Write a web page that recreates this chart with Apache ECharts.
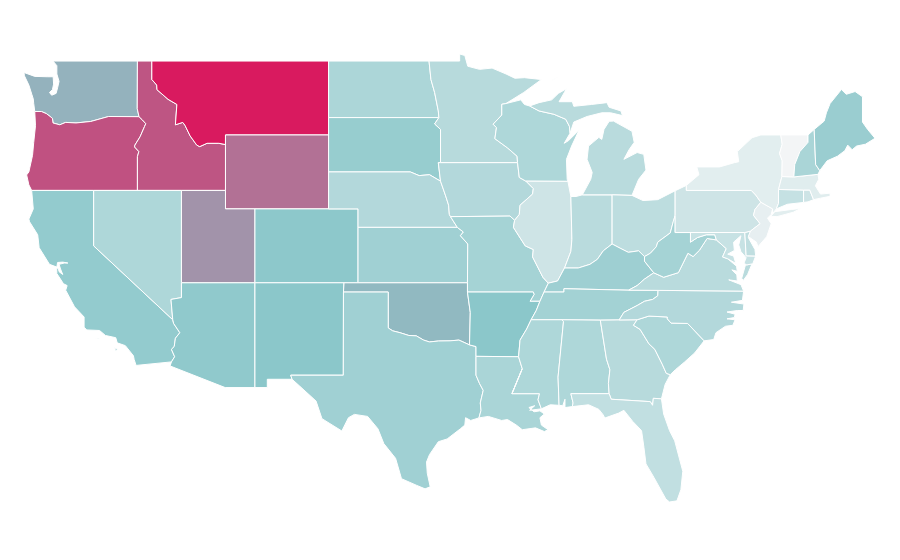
<!DOCTYPE html>
<html lang="en">
<head>
<meta charset="UTF-8">
<title>US states</title>
<script src="https://cdn.jsdelivr.net/npm/echarts@6/dist/echarts.min.js"></script>
<style>html,body{margin:0;background:#fff}</style>
</head>
<body>
<div id="chart1" style="width:900px;height:560px;"></div>
<script type="text/javascript">
// values (0 = palest, 50 = teal, 100 = crimson)
var stateNames = ['WA','OR','CA','ID','NV','MT','WY','UT','AZ','CO','NM','ND','SD','NE','KS','OK','TX','MN','IA','MO','AR','LA','WI','IL','IN','MI','OH','KY','TN','MS','AL','GA','FL','SC','NC','VA','WV','MD','DE','PA','NJ','NY','CT','RI','MA','VT','NH','ME'];
var stateValues = [56,84,46,83,33,100,75,65,47.5,49,50,34,44,31,40,54,40,29,31,37.5,50,35,33,18,28,28,26,41,38.5,33,33,29,24,33,31,28,37.5,21,24.5,18,6,8,22,18,9,0,35,43];
var paletteColors = ['#f3f5f6','#8bc7ca','#d91a5f'];

// shared borders, lon/lat
var columbia = [[-116.92,45.99],[-118.98,46],[-119.3,45.93],[-120.2,45.73],[-121.2,45.65],[-121.9,45.68],[-122.3,45.55],[-122.76,45.65],[-122.8,45.9],[-123.2,46.15],[-123.55,46.27],[-124,46.27]];
var snake = [[-117.03,42],[-117.03,43.83],[-116.93,44.1],[-117.22,44.35],[-117.2,44.45],[-116.85,44.9],[-116.55,45.45],[-116.46,45.61],[-116.7,45.82],[-116.92,45.99]];
var idMt = [[-116.05,49],[-116.05,48],[-115.72,47.7],[-115.7,47.45],[-114.95,46.93],[-114.35,46.65],[-114.45,45.55],[-113.95,45.68],[-113.8,45.52],[-113.45,44.95],[-113,44.45],[-112.8,44.37],[-112.3,44.55],[-111.5,44.55],[-111.05,44.48]];
var coloradoR = [[-114.63,35],[-114.57,34.8],[-114.15,34.3],[-114.45,34],[-114.53,33.55],[-114.72,33.4],[-114.5,33],[-114.72,32.72]];
var redRiver = [[-100,34.56],[-99.7,34.4],[-99.2,34.3],[-98.6,34.15],[-98.1,34.13],[-97.6,33.9],[-97.2,33.8],[-96.6,33.85],[-95.8,33.86],[-95.2,33.9],[-94.48,33.64]];
var sabine = [[-94.04,33.02],[-94.04,32],[-93.8,31.55],[-93.55,31.18],[-93.75,30.5],[-93.7,30.1],[-93.84,29.69]];
var moKs = [[-95.31,40],[-94.9,39.75],[-95.1,39.55],[-94.6,39.1],[-94.62,37]];
var neIa = [[-96.45,42.5],[-96.1,41.7],[-95.9,41.2],[-95.85,40.7],[-95.77,40.58],[-95.31,40]];
var neSd = [[-104.05,43],[-98.5,43],[-97.9,42.8],[-97.2,42.85],[-96.45,42.5]];
var ndMn = [[-97.23,49],[-97.1,48],[-96.85,47.3],[-96.6,46.3],[-96.56,45.94]];
var sdMn = [[-96.56,45.94],[-96.85,45.6],[-96.45,45.3],[-96.45,43.5]];
var mnWi = [[-92.01,46.7],[-92.29,46.66],[-92.29,46.08],[-92.88,45.58],[-92.65,45.4],[-92.76,44.8],[-91.9,44.3],[-91.25,43.85],[-91.22,43.5]];
var iaIl = [[-90.65,42.5],[-90.15,42.1],[-90.2,41.8],[-91.05,41.2],[-91.1,40.7],[-91.42,40.38]];
var ilMo = [[-91.42,40.38],[-91.5,40],[-90.7,39],[-90.15,38.8],[-90.2,38.4],[-89.5,37.3],[-89.13,36.98]];
var ohioLow = [[-84.8,39.1],[-85.4,38.73],[-85.8,38.27],[-86.3,38],[-87.1,37.8],[-88.03,37.8]];
var ohioIlKy = [[-88.03,37.8],[-88.5,37.1],[-89.13,36.98]];
var ohioOhKy = [[-82.6,38.42],[-83,38.73],[-83.7,38.65],[-84.2,38.85],[-84.8,39.1]];
var ohioOhWv = [[-80.52,40.64],[-80.65,40.3],[-80.85,39.7],[-81.7,39.2],[-81.8,38.95],[-82.2,38.6],[-82.6,38.42]];
var moKyTn = [[-89.13,36.98],[-89.42,36.5]];
var moAr = [[-90.15,36.5],[-90.1,36.37],[-90.37,36],[-89.7,36]];
var boot = [[-89.42,36.5],[-89.7,36]];
var tnAr = [[-89.7,36],[-89.95,35.5],[-90.3,35]];
var msAr = [[-90.3,35],[-90.6,34.5],[-91.05,33.9],[-91.15,33]];
var laMs = [[-91.15,33],[-90.9,32.35],[-91.6,31],[-89.73,31],[-89.83,30.67],[-89.6,30.18]];
var msAl = [[-88.2,35],[-88.1,34.9],[-88.47,31.9],[-88.4,30.37]];
var alGa = [[-85.6,34.98],[-85.18,32.87],[-84.95,32.3],[-85.05,31.55],[-85,31]];
var gaFl = [[-85,31],[-84.86,30.7],[-82.21,30.57],[-82.05,30.37],[-82,30.75],[-81.45,30.72]];
var gaSc = [[-83.1,35],[-83.35,34.7],[-82.9,34.48],[-82.3,33.7],[-81.9,33.4],[-81.4,32.6],[-81.12,32.1],[-80.85,32.03]];
var ncSc = [[-83.1,35],[-82.3,35.2],[-81.05,35.15],[-81.05,35.05],[-80.8,34.82],[-79.67,34.8],[-78.55,33.86]];
var ncTn = [[-81.68,36.59],[-81.7,36.3],[-82.05,36.1],[-82.6,36],[-83.1,35.77],[-84,35.4],[-84.32,34.99]];
var kyVa = [[-83.68,36.6],[-83.1,36.85],[-82.6,37.2],[-81.97,37.54]];
var kyWv = [[-81.97,37.54],[-82.6,38.17],[-82.6,38.42]];
var wvVa = [[-77.72,39.32],[-78.35,39.4],[-78.87,38.76],[-79.3,38.42],[-79.65,38.6],[-80.3,37.55],[-81.3,37.3],[-81.97,37.54]];
var wvMd = [[-79.48,39.72],[-79.48,39.2],[-79,39.45],[-78.4,39.6],[-77.83,39.6],[-77.72,39.32]];
var mdVa = [[-77.72,39.32],[-77.05,38.85],[-77.3,38.4],[-76.95,38.3]];
var delaw = [[-75.4,39.8],[-74.75,40.2],[-75.2,40.65],[-75.1,40.97],[-74.7,41.36]];
var nyPa = [[-74.7,41.36],[-75.05,41.75],[-75.35,42],[-79.76,42],[-79.76,42.27]];
var vtNy = [[-73.35,45],[-73.25,44.5],[-73.43,44],[-73.25,43.6],[-73.27,42.75]];
var vtNh = [[-71.5,45],[-71.5,44.6],[-72.05,44.1],[-72.4,43.4],[-72.46,42.73]];
var nhMe = [[-71.08,45.3],[-70.98,43.4],[-70.7,43.07]];
var miSouth = [[-86.82,41.76],[-84.8,41.76],[-83.45,41.73]];
var upWi = [[-87.65,45.1],[-87.7,45.47],[-87.95,45.85],[-88.75,46.12],[-89.76,46.3],[-90.4,46.57]];

function rev(a) { return a.slice().reverse(); }
function ring() { var r = [].concat.apply([], arguments); r.push(r[0]); return r; }

var stateRings = {
  WA: [ring([[-122.76,49],[-117.03,49],[-117.04,46.42]], columbia, [[-124.07,46.7],[-124.1,46.95],[-124.2,47.2],[-124.4,47.7],[-124.7,48.2],[-124.73,48.38],[-124,48.17],[-123.15,48.15],[-122.75,48.15],[-122.72,47.75],[-122.8,47.45],[-123,47.3],[-122.85,47.15],[-122.55,47.25],[-122.45,47.55],[-122.35,47.9],[-122.5,48.3],[-122.5,48.75]])],
  OR: [ring(rev(columbia), rev(snake), [[-120,42],[-124.21,42],[-124.4,42.3],[-124.55,42.84],[-124.4,43],[-124.15,43.9],[-124.07,44.6],[-123.95,45.5]])],
  CA: [ring([[-124.21,42],[-120,42],[-120,39]], coloradoR, [[-117.12,32.53],[-117.25,32.85],[-117.3,33.05],[-117.85,33.6],[-118.4,33.75],[-118.5,34.03],[-119.2,34.15],[-119.6,34.42],[-120.47,34.45],[-120.65,34.6],[-120.65,35.15],[-121.3,35.7],[-121.9,36.6],[-121.8,36.85],[-122.05,36.95],[-122.5,37.5],[-122.51,37.78],[-122.4,37.8],[-122.35,37.6],[-122.1,37.45],[-122.25,37.75],[-122.35,38],[-122,38.07],[-121.75,38.07],[-122.1,38.12],[-122.45,38.1],[-122.5,37.85],[-123,38],[-123.7,38.9],[-123.8,39.6],[-124.35,40.3],[-124.4,40.45],[-124.1,41]]),
       ring([[-119.9,34],[-119.55,34],[-119.7,33.96]]), ring([[-118.6,33.48],[-118.35,33.4],[-118.5,33.33]])],
  ID: [ring([[-117.03,49]], idMt, [[-111.05,42]], snake, [[-117.04,46.42]])],
  NV: [ring([[-120,42],[-114.04,42],[-114.04,36.2],[-114.75,36.1],[-114.63,35],[-120,39]])],
  MT: [ring([[-104.05,49],[-104.05,45],[-111.05,45]], rev(idMt))],
  WY: [ring([[-111.05,45],[-104.05,45],[-104.05,41],[-111.05,41]])],
  UT: [ring([[-114.04,42],[-111.05,42],[-111.05,41],[-109.05,41],[-109.05,37],[-114.04,37]])],
  AZ: [ring([[-114.04,37],[-109.05,37],[-109.05,31.33],[-111.07,31.33],[-114.81,32.5]], rev(coloradoR), [[-114.75,36.1],[-114.04,36.2]])],
  CO: [ring([[-109.05,41],[-102.05,41],[-102.05,37],[-109.05,37]])],
  NM: [ring([[-109.05,37],[-103,37],[-103.04,36.5],[-103.05,32],[-106.62,32],[-106.53,31.78],[-108.21,31.78],[-108.21,31.33],[-109.05,31.33]])],
  ND: [ring([[-104.05,49]], ndMn, [[-104.05,45.94]])],
  SD: [ring([[-104.05,45.94]], sdMn, [[-96.6,43.5]], rev(neSd))],
  NE: [ring(neSd, neIa, [[-102.05,40],[-102.05,41],[-104.05,41]])],
  KS: [ring(moKs, [[-102.05,37],[-102.05,40]])],
  OK: [ring([[-103,37],[-94.62,37],[-94.62,36.5],[-94.43,35.4]], rev(redRiver), [[-100,36.5],[-103.04,36.5]])],
  TX: [ring([[-103.04,36.5],[-100,36.5]], redRiver, [[-94.04,33.55]], sabine, [[-94.4,29.55],[-94.75,29.7],[-94.8,29.3],[-95.1,29.1],[-96,28.55],[-96.6,28.4],[-97.2,27.7],[-97.4,27.3],[-97.35,26.7],[-97.15,25.96],[-97.5,25.85],[-98.1,26.05],[-99.1,26.4],[-99.5,27.5],[-100.3,28.3],[-100.7,29.1],[-101.4,29.77],[-102.3,29.88],[-102.7,29.7],[-103.15,28.98],[-104.5,29.65],[-104.9,30.6],[-106,31.4],[-106.53,31.78],[-106.62,32],[-103.05,32]])],
  MN: [ring([[-97.23,49],[-95.15,49],[-95.15,49.38],[-94.8,49.3],[-94.6,48.72],[-93.8,48.55],[-92.95,48.62],[-92,48.3],[-91.4,48.07],[-90.75,48.1],[-89.6,48],[-90.8,47.3]], mnWi, [[-96.45,43.5]], rev(sdMn), rev(ndMn))],
  IA: [ring([[-96.45,43.5],[-91.22,43.5],[-91.1,42.7]], iaIl, [[-91.73,40.61],[-95.77,40.58],[-95.85,40.7],[-95.9,41.2],[-96.1,41.7],[-96.45,42.5],[-96.6,43.5]])],
  MO: [ring([[-95.77,40.58],[-91.73,40.61]], ilMo, moKyTn, boot, rev(moAr), [[-94.62,36.5]], rev(moKs))],
  AR: [ring([[-94.62,36.5]], moAr, tnAr, msAr, [[-94.04,33.02],[-94.04,33.55],[-94.48,33.64],[-94.43,35.4]])],
  LA: [ring(laMs, [[-89.9,30.15],[-90.4,30.1],[-90.05,30.35],[-90.45,30.25],[-90.1,30.02],[-89.7,30.07],[-89.4,29.9],[-89.7,29.7],[-89.6,29.3],[-89.15,29.05],[-89.4,28.95],[-90,29.15],[-90.9,29.05],[-91.3,29.3],[-91.9,29.6],[-92.3,29.55],[-93.2,29.77]], rev(sabine))],
  WI: [ring([[-92.01,46.7],[-91,46.9],[-90.75,46.65]], rev(upWi), [[-88.05,44.55],[-87.75,44.7],[-87.05,45.25],[-87.55,44.4],[-87.9,43.68],[-87.85,42.6],[-87.8,42.49],[-90.65,42.5],[-91.1,42.7]], rev(mnWi))],
  IL: [ring([[-90.65,42.5],[-87.8,42.49],[-87.6,41.67],[-87.53,39.35],[-87.6,38.7]], ohioIlKy, rev(ilMo), rev(iaIl))],
  IN: [ring([[-87.6,41.67],[-87.25,41.67]], miSouth.slice(0,2), ohioLow, [[-87.6,38.7],[-87.53,39.35]])],
  MI: [ring(miSouth, [[-83,42.6],[-82.5,43.1],[-82.65,43.95],[-83.1,44.05],[-84,43.68],[-83.65,44.2],[-83.3,44.6],[-83.45,45.2],[-84.7,45.75],[-85,45.74],[-85.35,45.3],[-85.5,44.76],[-85.7,44.87],[-86.4,44.4],[-86.5,43.68],[-86.15,42.97],[-86.25,42.6]]),
       ring(upWi, [[-89.76,46.75],[-88.9,46.9],[-88.45,47.25],[-87.9,47.5],[-88.4,46.8],[-87.5,46.8],[-87.4,46.55],[-86.2,46.65],[-85.15,46.75],[-85,46.5],[-84.2,46.3],[-84.1,46.05],[-84.9,46.2],[-85.5,46.2],[-86.5,46],[-87.4,45.7]]),
       ring([[-88.95,47.92],[-88.45,48.15],[-88.6,48.1]])],
  OH: [ring([[-84.8,41.76],[-83.45,41.73],[-82.7,41.45],[-81.7,41.5],[-80.52,41.98]], ohioOhWv, ohioOhKy)],
  KY: [ring(moKyTn, [[-88.07,36.5],[-88.07,36.68]], kyVa, kyWv, ohioOhKy, ohioLow.slice(1), ohioIlKy.slice(1))],
  TN: [ring([[-90.3,35],[-88.2,35],[-85.6,34.98]], rev(ncTn), [[-83.68,36.6],[-88.07,36.68],[-88.07,36.5],[-89.42,36.5]], boot.slice(1), tnAr.slice(1,2))],
  MS: [ring(rev(msAr), [[-88.2,35],[-88.1,34.9],[-88.47,31.9],[-88.4,30.37],[-89,30.4]], rev(laMs).slice(0,5), [[-91.6,31],[-90.9,32.35]])],
  AL: [ring(msAl.slice(0,1), alGa, [[-87.6,31],[-87.45,30.5],[-87.5,30.3],[-88,30.25],[-88,30.7],[-88.15,30.35]], rev(msAl))],
  GA: [ring([[-85.6,34.98]], gaSc, [[-81.2,31.5]], rev(gaFl), rev(alGa).slice(1))],
  FL: [ring([[-87.6,31]], gaFl, [[-81.3,29.9],[-80.9,29],[-80.55,28.45],[-80,26.8],[-80.13,25.8],[-80.4,25.2],[-80.9,25.14],[-81.15,25.3],[-81.96,26.47],[-82.5,27.2],[-82.64,28.1],[-82.8,29],[-83.4,29.5],[-84,30.1],[-84.35,29.95],[-85.3,29.68],[-85.4,29.85],[-85.7,30.15],[-86.4,30.4],[-87.5,30.3],[-87.45,30.5]])],
  SC: [ring(ncSc, [[-79.2,33.2],[-79.9,32.7],[-80.5,32.3]], rev(gaSc))],
  NC: [ring([[-83.1,35]], ncSc.slice(1), [[-77.9,33.93],[-77.75,34.3],[-77.1,34.65],[-76.6,34.7],[-76.45,35],[-77,35.05],[-76.5,35.12],[-76.45,35.3],[-77,35.42],[-76.3,35.5],[-75.9,35.5],[-75.85,35.85],[-76.7,35.95],[-75.95,36.05],[-75.87,36.55]], ncTn)],
  VA: [ring(wvVa, rev(kyVa), [[-81.68,36.59],[-75.87,36.55],[-76.05,36.9],[-76.88,37.16],[-76.3,37.1],[-76.33,37.43],[-76.67,37.7],[-76.3,37.62],[-76.35,37.9],[-76.95,38.3]], rev(mdVa).slice(1)),
       ring([[-76,37.25],[-75.75,37.95],[-75.3,38.03],[-75.6,37.45],[-75.9,37.12]])],
  WV: [ring(ohioOhWv, rev(kyWv), rev(wvVa), rev(wvMd), [[-80.52,39.72]])],
  MD: [ring(wvMd, mdVa, [[-76.4,38.05],[-76.55,38.45],[-76.95,38.55],[-76.5,38.75],[-76.55,39.2],[-76.05,39.55],[-76.2,39.05],[-76.05,38.68],[-75.7,38.36],[-75.85,38.05],[-75.65,37.97],[-75.25,38.03],[-75.05,38.45],[-75.7,38.46],[-75.79,39.72]])],
  DE: [ring([[-75.79,39.72],[-75.4,39.8],[-75.55,39.45],[-75.1,38.8],[-75.05,38.45],[-75.7,38.46]])],
  PA: [ring([[-80.52,41.98]], rev(nyPa), rev(delaw), [[-75.79,39.72],[-80.52,39.72],[-80.52,40.64]])],
  NJ: [ring([[-73.9,41]], rev(delaw), [[-75.55,39.5],[-75,39.2],[-74.9,38.95],[-74.3,39.5],[-74,40.2],[-74.25,40.5],[-74,40.7]])],
  NY: [ring([[-79.76,42.27],[-78.9,42.85],[-79.05,43.27],[-77.5,43.27],[-76.5,43.5],[-76.2,43.55],[-76.3,44.1],[-75.3,44.85],[-74.7,45]], vtNy, [[-73.5,42.05],[-73.5,41.3],[-73.65,41],[-73.9,40.75],[-73.9,41]], nyPa.slice(0,-1)),
       ring([[-74.03,40.6],[-73.75,40.85],[-72.6,40.97],[-72,41.02],[-72.5,40.82],[-73.6,40.58]])],
  CT: [ring([[-73.5,42.05],[-71.8,42.02],[-71.8,41.35],[-72.9,41.25],[-73.65,41],[-73.5,41.3]])],
  RI: [ring([[-71.8,42.02],[-71.38,42.02],[-71.12,41.5],[-71.5,41.38],[-71.8,41.35]])],
  MA: [ring([[-73.5,42.05],[-73.27,42.75],[-72.46,42.73],[-70.82,42.87],[-70.77,42.6],[-71,42.25],[-70.65,41.8],[-70,41.85],[-70,41.68],[-70.65,41.58],[-71.12,41.5],[-71.38,42.02],[-71.8,42.02]])],
  VT: [ring(vtNy, rev(vtNh))],
  NH: [ring(vtNh, [[-70.82,42.87]], rev(nhMe))],
  ME: [ring(nhMe.slice(0,1), [[-70.4,45.75],[-70.25,46.2],[-70,46.7],[-69.23,47.46],[-68.9,47.2],[-68.3,47.35],[-67.8,47.07],[-67.8,45.7],[-67.45,45.3],[-66.95,44.82],[-67.6,44.5],[-68.2,44.4],[-68.5,44.2],[-68.8,44.45],[-69,44.15],[-69.5,43.85],[-70.2,43.6]], rev(nhMe).slice(0,2))]
};

var features = stateNames.map(function (n) {
  return { type: 'Feature', properties: { name: n }, geometry: { type: 'MultiPolygon', coordinates: stateRings[n].map(function (r) { return [r]; }) } };
});
echarts.registerMap('usa', { type: 'FeatureCollection', features: features });

var myChart1 = echarts.init(document.getElementById('chart1'));
myChart1.setOption({
  animation: false,
  backgroundColor: '#fff',
  visualMap: { show: false, min: 0, max: 100, inRange: { color: paletteColors } },
  series: [{
    type: 'map',
    map: 'usa',
    silent: true,
    roam: false,
    aspectScale: 0.797,
    layoutCenter: [449.5, 278],
    layoutSize: 851,
    label: { show: false },
    itemStyle: { borderColor: '#fff', borderWidth: 1 },
    data: stateNames.map(function (n, i) { return { name: n, value: stateValues[i] }; })
  }]
});
</script>
</body>
</html>
